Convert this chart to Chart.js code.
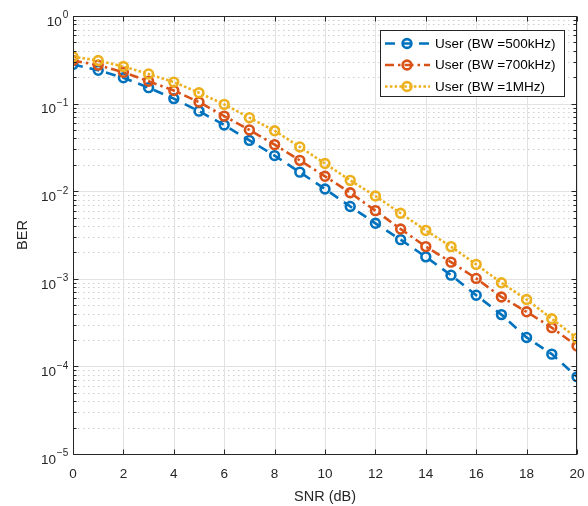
<!DOCTYPE html>
<html><head><meta charset="utf-8">
<script src="https://cdn.jsdelivr.net/npm/chart.js@4.4.1/dist/chart.umd.min.js"></script>
<style>html,body{margin:0;padding:0;background:#fff;} canvas{display:block;}</style>
</head><body>
<canvas id="c" width="588" height="506"></canvas>
<script>
// ---- data ----
const snr = [0,1,2,3,4,5,6,7,8,9,10,11,12,13,14,15,16,17,18,19,20];
const ber500k = [0.28,0.24,0.197,0.152,0.114,0.082,0.057,0.038,0.0255,0.0165,0.0106,0.0067,0.0043,0.0028,0.00178,0.0011,0.00065,0.00039,0.000214,0.000138,0.000076];
const ber700k = [0.31,0.275,0.228,0.18,0.141,0.104,0.072,0.05,0.034,0.0225,0.0148,0.0096,0.006,0.0037,0.00233,0.00155,0.00101,0.00062,0.00042,0.000277,0.000171];
const ber1M = [0.343,0.31,0.265,0.218,0.176,0.133,0.098,0.069,0.049,0.032,0.0207,0.0133,0.0088,0.0056,0.00357,0.00233,0.00146,0.0009,0.00058,0.00035,0.00021];
const seriesLabels = ['User (BW =500kHz)','User (BW =700kHz)','User (BW =1MHz)'];
const xTickValues = [0,2,4,6,8,10,12,14,16,18,20];
const yExponents = [0,-1,-2,-3,-4,-5];

const colors = ['#0072BD','#D95319','#EDB120'];
const dashes = [[10,7],[9,4,2.5,4],[2.6,2.2]];
const AX = '#262626';
const FONT = 'Liberation Sans, Arial, Helvetica, sans-serif';

function mk(i, values, order){
  return {
    label: seriesLabels[i],
    data: snr.map((x,k)=>({x:x, y:values[k]})),
    borderColor: colors[i], borderWidth: 2.6, borderDash: dashes[i],
    pointStyle: 'circle', pointRadius: 4.4, pointBorderWidth: 2.6,
    pointBorderColor: colors[i], pointBackgroundColor: 'rgba(0,0,0,0)',
    pointHoverRadius: 4.4, fill: false, tension: 0, order: order
  };
}

const decoPlugin = {
  id: 'deco',
  beforeDatasetsDraw(chart){
    const ctx = chart.ctx, a = chart.chartArea;
    const xs = chart.scales.x, ys = chart.scales.y;
    ctx.save();
    // minor dotted horizontal grid
    ctx.strokeStyle = '#cfcfcf'; ctx.lineWidth = 1; ctx.setLineDash([1.5,3.5]);
    for (const e of yExponents) {
      if (e === 0) continue;
      for (let m = 2; m <= 9; m++) {
        const y = Math.round(ys.getPixelForValue(m*Math.pow(10,e))) + 0.5;
        ctx.beginPath(); ctx.moveTo(a.left, y); ctx.lineTo(a.right, y); ctx.stroke();
      }
    }
    // major solid grid
    ctx.setLineDash([]); ctx.strokeStyle = '#e2e2e2';
    for (const e of yExponents) {
      const y = Math.round(ys.getPixelForValue(Math.pow(10,e))) + 0.5;
      ctx.beginPath(); ctx.moveTo(a.left, y); ctx.lineTo(a.right, y); ctx.stroke();
    }
    for (const v of xTickValues) {
      const x = Math.round(xs.getPixelForValue(v)) + 0.5;
      ctx.beginPath(); ctx.moveTo(x, a.top); ctx.lineTo(x, a.bottom); ctx.stroke();
    }
    ctx.restore();
  },
  afterDatasetsDraw(chart){
    const ctx = chart.ctx, a = chart.chartArea;
    const xs = chart.scales.x, ys = chart.scales.y;
    const L = Math.round(a.left)+0.5, R = Math.round(a.right)-0.5, T = Math.round(a.top)+0.5, B = Math.round(a.bottom)+0.5;
    ctx.save();
    ctx.strokeStyle = AX; ctx.lineWidth = 1; ctx.setLineDash([]);
    ctx.strokeRect(L, T, R-L, B-T);
    // ticks
    ctx.beginPath();
    for (const v of xTickValues) {
      const x = Math.round(xs.getPixelForValue(v)) + 0.5;
      ctx.moveTo(x, B); ctx.lineTo(x, B-5);
      ctx.moveTo(x, T); ctx.lineTo(x, T+5);
    }
    for (const e of yExponents) {
      for (let m = 1; m <= 9; m++) {
        if (e === 0 && m > 1) continue;
        const len = m === 1 ? 5 : 3;
        const y = Math.round(ys.getPixelForValue(m*Math.pow(10,e))) + 0.5;
        ctx.moveTo(L, y); ctx.lineTo(L+len, y);
        ctx.moveTo(R, y); ctx.lineTo(R-len, y);
      }
    }
    ctx.stroke();
    // y tick labels 10^e
    ctx.fillStyle = AX; ctx.textBaseline = 'alphabetic';
    const rightEdge = a.left - 4.8;
    for (const e of yExponents) {
      const y = ys.getPixelForValue(Math.pow(10,e));
      const expTxt = e === 0 ? '0' : '\u2212' + Math.abs(e);
      ctx.font = '10px ' + FONT;
      const we = ctx.measureText(expTxt).width;
      ctx.textAlign = 'left';
      ctx.fillText(expTxt, rightEdge - we, y + 2.4);
      ctx.font = '13.5px ' + FONT;
      ctx.textAlign = 'right';
      ctx.fillText('10', rightEdge - we - 0.8, y + 9.7);
    }
    // legend
    const bx = 380.5, by = 30.5, bw = 184, bh = 66;
    ctx.fillStyle = '#fff'; ctx.fillRect(bx, by, bw, bh);
    ctx.strokeStyle = AX; ctx.lineWidth = 1; ctx.strokeRect(bx, by, bw, bh);
    const rows = [43.5, 65, 86.5];
    chart.data.datasets.forEach((ds, i) => {
      const y = rows[i];
      ctx.save();
      ctx.strokeStyle = ds.borderColor; ctx.lineWidth = ds.borderWidth;
      ctx.setLineDash(ds.borderDash);
      ctx.beginPath(); ctx.moveTo(385, y); ctx.lineTo(430, y); ctx.stroke();
      ctx.setLineDash([]);
      ctx.lineWidth = ds.pointBorderWidth;
      ctx.beginPath(); ctx.arc(407, y, ds.pointRadius, 0, Math.PI*2); ctx.stroke();
      ctx.restore();
      ctx.fillStyle = '#000'; ctx.font = '13.5px ' + FONT;
      ctx.textAlign = 'left'; ctx.textBaseline = 'middle';
      ctx.fillText(ds.label, 435, y + 0.5);
    });
    ctx.restore();
  }
};

new Chart(document.getElementById('c'), {
  type: 'line',
  data: { datasets: [ mk(0, ber500k, 3), mk(1, ber700k, 2), mk(2, ber1M, 1) ] },
  options: {
    responsive: false, devicePixelRatio: 1, animation: false,
    layout: { padding: { top: 16, right: 11, left: 0, bottom: 0 } },
    plugins: { legend: { display: false }, tooltip: { enabled: false } },
    scales: {
      x: {
        type: 'linear', min: 0, max: 20,
        grid: { display: false, drawTicks: false },
        border: { display: false },
        ticks: { stepSize: 2, color: AX, padding: 12, font: { family: FONT, size: 13.5 }, maxRotation: 0 },
        title: { display: true, text: 'SNR (dB)', color: AX, font: { family: FONT, size: 14.5 }, padding: { top: 0, bottom: 0 } },
        afterFit: s => { s.height = 52; s.paddingLeft = 0; s.paddingRight = 0; }
      },
      y: {
        type: 'logarithmic', min: 1e-5, max: 1,
        grid: { display: false, drawTicks: false },
        border: { display: false },
        ticks: { display: false },
        title: { display: true, text: 'BER', color: AX, font: { family: FONT, size: 14.5 }, padding: { top: 14, bottom: 0 } },
        afterFit: s => { s.width = 73; s.paddingTop = 0; s.paddingBottom = 0; }
      }
    }
  },
  plugins: [decoPlugin]
});
</script>
</body></html>
